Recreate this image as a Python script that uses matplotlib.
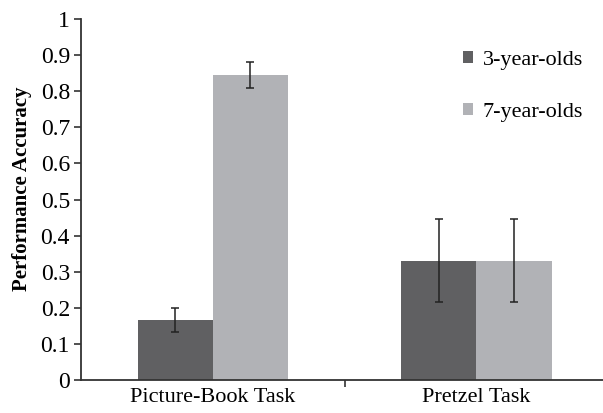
import matplotlib
matplotlib.use("Agg")
import matplotlib.pyplot as plt
import numpy as np

categories = ["Picture-Book Task", "Pretzel Task"]
series_names = ["3-year-olds", "7-year-olds"]
values_3 = [0.167, 0.33]
values_7 = [0.845, 0.33]
err_3 = [0.033, 0.115]
err_7 = [0.035, 0.115]
yticks = [0, 0.1, 0.2, 0.3, 0.4, 0.5, 0.6, 0.7, 0.8, 0.9, 1]
ytick_labels = ["0", "0.1", "0.2", "0.3", "0.4", "0.5", "0.6", "0.7", "0.8", "0.9", "1"]

plt.rcParams['font.family'] = ['Liberation Serif', 'DejaVu Serif']

fig = plt.figure(figsize=(6.03, 4.13), dpi=100)
ax = fig.add_axes([81/603, 33/413, 1 - 81/603, (380-19)/413])

x = np.arange(len(categories))
w = 0.285
c3 = "#606062"
c7 = "#b1b2b6"
ax.bar(x - w/2, values_3, w, color=c3, label=series_names[0])
ax.bar(x + w/2, values_7, w, color=c7, label=series_names[1])
ax.errorbar(x - w/2, values_3, yerr=err_3, fmt='none', ecolor="#222222", elinewidth=1.1, capsize=3.2, capthick=1.1)
ax.errorbar(x + w/2, values_7, yerr=err_7, fmt='none', ecolor="#222222", elinewidth=1.1, capsize=3.2, capthick=1.1)

ax.set_ylim(0, 1)
ax.set_xlim(-0.5, 1.48)
ax.set_yticks(yticks)
ax.set_yticklabels(ytick_labels, fontsize=17)
ax.set_xticks(x)
ax.set_xticklabels(categories, fontsize=16)
ax.set_xticks([0.5], minor=True)
ax.tick_params(axis='x', which='major', length=0, pad=6)
ax.tick_params(axis='x', which='minor', length=5, width=1.2, color="#333333")
ax.tick_params(axis='y', length=5, width=1.2, color="#333333", pad=3)

for s in ['top', 'right']:
    ax.spines[s].set_visible(False)
for s in ['left', 'bottom']:
    ax.spines[s].set_linewidth(1.3)
    ax.spines[s].set_color("#333333")

ax.set_ylabel("Performance Accuracy", fontsize=15, fontweight='bold')
ax.yaxis.set_label_coords(-0.094, 0.529)

leg = ax.legend(loc='upper left', frameon=False, fontsize=16, handlelength=0.45, handleheight=0.45,
                handletextpad=0.45, labelspacing=1.5, borderaxespad=0)
leg.set_bbox_to_anchor((454/603, (413-42)/413), transform=fig.transFigure)

fig.savefig("out.png", dpi=100)
